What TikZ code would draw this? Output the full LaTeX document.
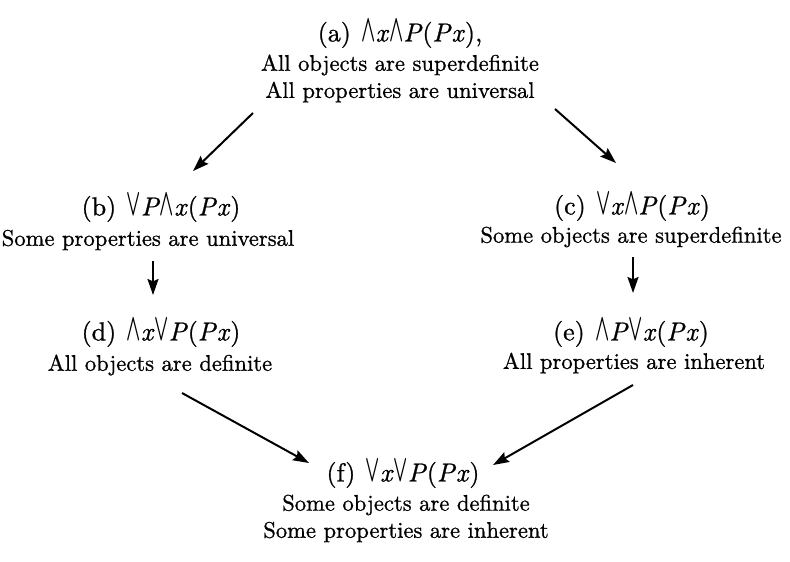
\documentclass[tikz,border=0pt]{standalone}
\usepackage{graphicx}
\usepackage{amsmath}
\usepackage{fontspec}
\setmainfont{lmroman10-regular.otf}[
  ItalicFont=lmroman10-italic.otf,
  FakeBold=0.9]
\usetikzlibrary{arrows.meta}

% slim, tall wedge / vee used as quantifier signs, sitting on the baseline
\newcommand{\Qall}{\resizebox{0.55em}{0.82em}{$\boldsymbol{\wedge}$}}
\newcommand{\Qsome}{\resizebox{0.55em}{0.82em}{$\boldsymbol{\vee}$}}
\newcommand{\vx}{\textit{x}}
\newcommand{\vP}{\textit{P}}

\begin{document}
\begin{tikzpicture}[x=0.5pt,y=-0.5pt,
    formula/.style={inner sep=0pt, font=\fontsize{13}{15}\selectfont},
    gloss/.style={inner sep=0pt, font=\fontsize{11.3}{13}\selectfont},
    arr/.style={line width=1pt, -{Stealth[length=8pt,width=5.5pt,inset=1.2pt]}}]
  \useasboundingbox (0,0) rectangle (790,561);

  % (a)
  \node[formula] (ta) at (400,34) {(a)\hspace{0.4em}\Qall\vx\Qall\vP(\vP\vx),};
  \node[gloss] (a1) at (400,65) {All objects are superdefinite};
  \node[gloss] (a2) at (400,92) {All properties are universal};

  % (b)
  \node[formula] (tb) at (161,208) {(b)\hspace{0.4em}\Qsome\vP\Qall\vx(\vP\vx)};
  \node[gloss] (b1) at (148,240) {Some properties are universal};

  % (c)
  \node[formula] (tc) at (632,207) {(c)\hspace{0.4em}\Qsome\vx\Qall\vP(\vP\vx)};
  \node[gloss] (c1) at (631,237) {Some objects are superdefinite};

  % (d)
  \node[formula] (td) at (161,333) {(d)\hspace{0.4em}\Qall\vx\Qsome\vP(\vP\vx)};
  \node[gloss] (d1) at (160,365) {All objects are definite};

  % (e)
  \node[formula] (te) at (631,333) {(e)\hspace{0.4em}\Qall\vP\Qsome\vx(\vP\vx)};
  \node[gloss] (e1) at (634,363) {All properties are inherent};

  % (f)
  \node[formula] (tf) at (403,474) {(f)\hspace{0.4em}\Qsome\vx\Qsome\vP(\vP\vx)};
  \node[gloss] (f1) at (406,505) {Some objects are definite};
  \node[gloss] (f2) at (406,532) {Some properties are inherent};

  % arrow ends
  \coordinate (ab-s) at (253,113);
  \coordinate (ab-e) at (193,171);
  \coordinate (ac-s) at (555,109);
  \coordinate (ac-e) at (616,163);
  \coordinate (bd-s) at (153,261);
  \coordinate (bd-e) at (153,295);
  \coordinate (ce-s) at (633,257);
  \coordinate (ce-e) at (633,293);
  \coordinate (df-s) at (182,393);
  \coordinate (df-e) at (309,463);
  \coordinate (ef-s) at (633,385);
  \coordinate (ef-e) at (493,465);

  \draw[arr] (ab-s) -- (ab-e);
  \draw[arr] (ac-s) -- (ac-e);
  \draw[arr] (bd-s) -- (bd-e);
  \draw[arr] (ce-s) -- (ce-e);
  \draw[arr] (df-s) -- (df-e);
  \draw[arr] (ef-s) -- (ef-e);
\end{tikzpicture}
\end{document}
